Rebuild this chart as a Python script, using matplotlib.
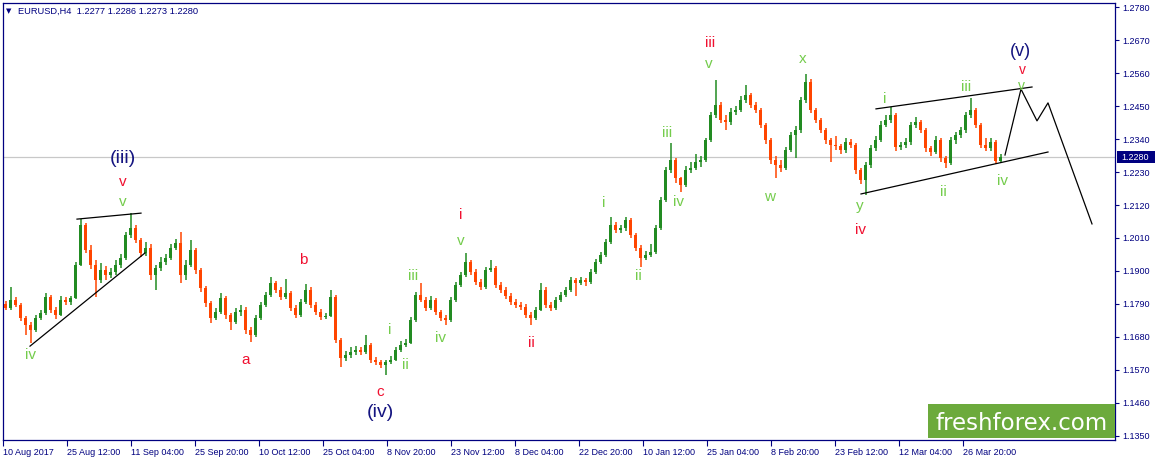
import numpy as np
import matplotlib
matplotlib.use("Agg")
import matplotlib.pyplot as plt
import matplotlib.transforms as mtransforms
from matplotlib.patches import Rectangle

# ローソク足データ (1本 = H4足5本分をまとめたもの)
first_open = 1.1790
closes = [
    1.1776, 1.1803, 1.1786, 1.1743, 1.1720, 1.1703, 1.1743, 1.1760, 1.1813, 1.1770,
    1.1753, 1.1803, 1.1796, 1.1810, 1.1920, 1.2053, 1.1970, 1.1920, 1.1870, 1.1903,
    1.1886, 1.1896, 1.1920, 1.1943, 1.2020, 1.2043, 1.2003, 1.1960, 1.1977, 1.1886,
    1.1910, 1.1930, 1.1943, 1.1977, 1.1993, 1.1886, 1.1920, 1.1970, 1.1903, 1.1843,
    1.1793, 1.1743, 1.1763, 1.1810, 1.1753, 1.1730, 1.1763, 1.1770, 1.1703, 1.1686,
    1.1743, 1.1786, 1.1820, 1.1860, 1.1836, 1.1813, 1.1826, 1.1776, 1.1753, 1.1796,
    1.1836, 1.1786, 1.1763, 1.1746, 1.1750, 1.1813, 1.1670, 1.1609, 1.1619, 1.1629,
    1.1636, 1.1629, 1.1653, 1.1603, 1.1596, 1.1586, 1.1596, 1.1603, 1.1636, 1.1653,
    1.1660, 1.1736, 1.1820, 1.1803, 1.1776, 1.1803, 1.1763, 1.1743, 1.1736, 1.1803,
    1.1853, 1.1886, 1.1930, 1.1896, 1.1863, 1.1846, 1.1903, 1.1910, 1.1853, 1.1836,
    1.1816, 1.1796, 1.1786, 1.1780, 1.1753, 1.1743, 1.1770, 1.1836, 1.1786, 1.1776,
    1.1803, 1.1820, 1.1836, 1.1870, 1.1860, 1.1870, 1.1863, 1.1896, 1.1930, 1.1953,
    1.1997, 1.2053, 1.2037, 1.2043, 1.2070, 1.2020, 1.1977, 1.1943, 1.1953, 1.1963,
    1.2043, 1.2137, 1.2237, 1.2270, 1.2210, 1.2187, 1.2237, 1.2244, 1.2264, 1.2270,
    1.2337, 1.2421, 1.2454, 1.2404, 1.2397, 1.2431, 1.2437, 1.2471, 1.2487, 1.2454,
    1.2437, 1.2387, 1.2337, 1.2270, 1.2254, 1.2244, 1.2304, 1.2354, 1.2370, 1.2471,
    1.2531, 1.2437, 1.2404, 1.2370, 1.2337, 1.2320, 1.2318, 1.2304, 1.2330, 1.2320,
    1.2237, 1.2204, 1.2254, 1.2310, 1.2337, 1.2387, 1.2404, 1.2421, 1.2314, 1.2320,
    1.2330, 1.2387, 1.2397, 1.2370, 1.2310, 1.2297, 1.2337, 1.2277, 1.2260, 1.2337,
    1.2354, 1.2370, 1.2421, 1.2437, 1.2387, 1.2320, 1.2310, 1.2330, 1.2266, 1.2280,
]
highs = [
    1.1800, 1.1846, 1.1812, 1.1793, 1.1750, 1.1728, 1.1752, 1.1770, 1.1826, 1.1820,
    1.1778, 1.1815, 1.1812, 1.1818, 1.1930, 1.2072, 1.2060, 1.1985, 1.1935, 1.1925,
    1.1915, 1.1910, 1.1935, 1.1958, 1.2030, 1.2093, 1.2055, 1.2010, 1.1995, 1.1990,
    1.1920, 1.1945, 1.1955, 1.1990, 1.2005, 1.2030, 1.1935, 1.2003, 1.1978, 1.1910,
    1.1850, 1.1800, 1.1775, 1.1826, 1.1818, 1.1760, 1.1775, 1.1785, 1.1778, 1.1712,
    1.1752, 1.1796, 1.1830, 1.1880, 1.1868, 1.1845, 1.1873, 1.1834, 1.1785, 1.1805,
    1.1856, 1.1845, 1.1795, 1.1772, 1.1760, 1.1836, 1.1820, 1.1676, 1.1632, 1.1645,
    1.1650, 1.1646, 1.1686, 1.1660, 1.1612, 1.1604, 1.1603, 1.1615, 1.1645, 1.1665,
    1.1672, 1.1745, 1.1830, 1.1860, 1.1812, 1.1815, 1.1810, 1.1770, 1.1752, 1.1812,
    1.1862, 1.1896, 1.1960, 1.1938, 1.1905, 1.1872, 1.1913, 1.1937, 1.1918, 1.1862,
    1.1845, 1.1825, 1.1805, 1.1795, 1.1788, 1.1762, 1.1780, 1.1860, 1.1845, 1.1795,
    1.1813, 1.1830, 1.1846, 1.1880, 1.1878, 1.1880, 1.1876, 1.1906, 1.1940, 1.1963,
    1.2007, 1.2080, 1.2062, 1.2055, 1.2080, 1.2077, 1.2028, 1.1985, 1.1965, 1.1990,
    1.2052, 1.2146, 1.2246, 1.2327, 1.2278, 1.2215, 1.2250, 1.2262, 1.2290, 1.2285,
    1.2345, 1.2432, 1.2537, 1.2465, 1.2420, 1.2445, 1.2450, 1.2485, 1.2520, 1.2495,
    1.2465, 1.2445, 1.2395, 1.2345, 1.2285, 1.2270, 1.2315, 1.2363, 1.2385, 1.2480,
    1.2557, 1.2540, 1.2445, 1.2412, 1.2378, 1.2345, 1.2350, 1.2325, 1.2345, 1.2340,
    1.2328, 1.2245, 1.2265, 1.2320, 1.2350, 1.2400, 1.2420, 1.2447, 1.2428, 1.2332,
    1.2345, 1.2397, 1.2414, 1.2405, 1.2378, 1.2318, 1.2350, 1.2345, 1.2285, 1.2347,
    1.2365, 1.2380, 1.2430, 1.2477, 1.2445, 1.2395, 1.2345, 1.2345, 1.2338, 1.2290,
]
lows = [
    1.1768, 1.1770, 1.1778, 1.1732, 1.1685, 1.1660, 1.1695, 1.1735, 1.1752, 1.1760,
    1.1740, 1.1748, 1.1786, 1.1785, 1.1805, 1.1915, 1.1960, 1.1905, 1.1813, 1.1860,
    1.1870, 1.1876, 1.1885, 1.1910, 1.1935, 1.2010, 1.1993, 1.1945, 1.1950, 1.1870,
    1.1836, 1.1900, 1.1920, 1.1935, 1.1970, 1.1860, 1.1870, 1.1912, 1.1890, 1.1830,
    1.1780, 1.1725, 1.1735, 1.1755, 1.1740, 1.1703, 1.1722, 1.1750, 1.1690, 1.1663,
    1.1680, 1.1736, 1.1778, 1.1812, 1.1826, 1.1803, 1.1805, 1.1766, 1.1742, 1.1746,
    1.1790, 1.1776, 1.1753, 1.1736, 1.1738, 1.1745, 1.1660, 1.1580, 1.1600, 1.1610,
    1.1618, 1.1618, 1.1622, 1.1592, 1.1585, 1.1575, 1.1553, 1.1588, 1.1598, 1.1630,
    1.1645, 1.1655, 1.1730, 1.1795, 1.1766, 1.1770, 1.1753, 1.1733, 1.1720, 1.1730,
    1.1796, 1.1845, 1.1880, 1.1886, 1.1853, 1.1836, 1.1840, 1.1895, 1.1843, 1.1826,
    1.1806, 1.1786, 1.1776, 1.1770, 1.1743, 1.1720, 1.1735, 1.1765, 1.1776, 1.1766,
    1.1770, 1.1795, 1.1812, 1.1830, 1.1816, 1.1852, 1.1850, 1.1856, 1.1890, 1.1922,
    1.1946, 1.1990, 1.2027, 1.2025, 1.2035, 1.2010, 1.1965, 1.1913, 1.1935, 1.1945,
    1.1958, 1.2037, 1.2130, 1.2228, 1.2195, 1.2164, 1.2180, 1.2228, 1.2236, 1.2248,
    1.2262, 1.2330, 1.2412, 1.2394, 1.2370, 1.2387, 1.2420, 1.2430, 1.2462, 1.2444,
    1.2427, 1.2377, 1.2325, 1.2258, 1.2210, 1.2230, 1.2238, 1.2296, 1.2277, 1.2362,
    1.2462, 1.2427, 1.2394, 1.2360, 1.2325, 1.2264, 1.2305, 1.2290, 1.2295, 1.2310,
    1.2225, 1.2190, 1.2155, 1.2245, 1.2300, 1.2330, 1.2380, 1.2395, 1.2300, 1.2305,
    1.2312, 1.2322, 1.2378, 1.2360, 1.2297, 1.2285, 1.2290, 1.2265, 1.2244, 1.2254,
    1.2325, 1.2345, 1.2362, 1.2412, 1.2377, 1.2310, 1.2300, 1.2300, 1.2258, 1.2260,
]

# 軸ラベル
time_labels = [
    "10 Aug 2017", "25 Aug 12:00", "11 Sep 04:00", "25 Sep 20:00", "10 Oct 12:00",
    "25 Oct 04:00", "8 Nov 20:00", "23 Nov 12:00", "8 Dec 04:00", "22 Dec 20:00",
    "10 Jan 12:00", "25 Jan 04:00", "8 Feb 20:00", "23 Feb 12:00", "12 Mar 04:00",
    "26 Mar 20:00",
]
price_ticks = [1.2780, 1.2670, 1.2560, 1.2450, 1.2340, 1.2230, 1.2120,
               1.2010, 1.1900, 1.1790, 1.1680, 1.1570, 1.1460, 1.1350]
last_price = 1.2280
header = "EURUSD,H4  1.2277 1.2286 1.2273 1.2280"

# トレンドライン・予想パス (H4足インデックス, 価格)
wedge_top_x = [74, 138]
wedge_top_y = [1.2073, 1.2093]
wedge_bot_x = [27, 142]
wedge_bot_y = [1.1649, 1.1960]
chan_top_x = [873, 1029]
chan_top_y = [1.2441, 1.2514]
chan_bot_x = [858, 1045]
chan_bot_y = [1.2157, 1.2297]
forecast_x = [1002, 1018, 1034, 1045, 1089]
forecast_y = [1.2287, 1.2507, 1.2401, 1.2461, 1.2057]

# 波動ラベル (テキスト, H4足インデックス, 価格, 種類)
wave_labels = [
    ("(iii)", 120, 1.2277, "major"), ("v", 120, 1.2197, "minor"), ("v", 120, 1.2130, "minute"),
    ("iv", 27, 1.1620, "minute"), ("a", 243, 1.1603, "minor"), ("b", 300, 1.1937, "minor"),
    ("c", 377, 1.1496, "minor"), ("(iv)", 377, 1.1429, "major"),
    ("i", 387, 1.1703, "minute"), ("ii", 402, 1.1586, "minute"), ("iii", 410, 1.1883, "minute"),
    ("iv", 437, 1.1676, "minute"), ("v", 458, 1.2000, "minute"), ("i", 458, 1.2087, "minor"),
    ("ii", 528, 1.1660, "minor"),
    ("i", 601, 1.2127, "minute"), ("ii", 635, 1.1883, "minute"), ("iii", 664, 1.2360, "minute"),
    ("iv", 675, 1.2130, "minute"), ("v", 706, 1.2591, "minute"), ("iii", 707, 1.2661, "minor"),
    ("w", 767, 1.2147, "minute"), ("x", 800, 1.2607, "minute"), ("y", 857, 1.2117, "minute"),
    ("iv", 857, 1.2037, "minor"),
    ("i", 882, 1.2474, "minute"), ("ii", 940, 1.2164, "minute"), ("iii", 963, 1.2514, "minute"),
    ("iv", 999, 1.2200, "minute"), ("v", 1018, 1.2517, "minute_s"), ("v", 1019, 1.2571, "minor_s"),
    ("(v)", 1017, 1.2634, "major_s"),
]

NAVY = "#000080"
UP = "#228b22"
DOWN = "#ff4500"
label_style = {
    "major": ("#141480", 14),
    "minor": ("#f01030", 11),
    "minute": ("#74cc4c", 11),
    "major_s": ("#141480", 13),
    "minor_s": ("#f01030", 10),
    "minute_s": ("#74cc4c", 10),
}
BAR_STEP = 5   # 1本あたりのH4足数
TICK_EVERY = 64

W, H = 1155, 461
fig = plt.figure(figsize=(W / 100, H / 100), dpi=100)
fig.patch.set_facecolor("white")
ax = fig.add_axes([3 / W, 21 / H, 1112 / W, 437 / H])
ax.set_xlim(0, 1112)
ax.set_ylim(1.13357, 1.27944)

# 現在値ライン
ax.axhline(last_price, color="#c8c8c8", lw=0.9, zorder=0)

# ローソク足
c = np.array(closes)
o = np.array([first_open] + closes[:-1])
x = np.arange(len(c)) * BAR_STEP + BAR_STEP / 2
colors = np.where(c >= o, UP, DOWN)
ax.vlines(x, lows, highs, colors=colors, lw=1.1, zorder=2)
ax.bar(x, np.abs(c - o), bottom=np.minimum(c, o), width=3.8, color=colors, lw=0, zorder=3)

# ライン
for lx, ly in [(wedge_top_x, wedge_top_y), (wedge_bot_x, wedge_bot_y),
               (chan_top_x, chan_top_y), (chan_bot_x, chan_bot_y),
               (forecast_x, forecast_y)]:
    ax.plot(lx, ly, color="black", lw=0.9, zorder=4)

for txt, bx, py, kind in wave_labels:
    col, fs = label_style[kind]
    ax.text(bx, py, txt, color=col, fontsize=fs, ha="center", va="center",
            family="Liberation Sans", zorder=5)

# 枠と目盛り
for sp in ax.spines.values():
    sp.set_color(NAVY)
    sp.set_linewidth(0.9)
ax.yaxis.tick_right()
ax.set_yticks(price_ticks)
ax.set_yticklabels([f"{p:.4f}" for p in price_ticks])
ax.tick_params(axis="y", direction="out", length=3, width=0.8, colors=NAVY,
               labelsize=6.5, pad=2.5)
ax.set_xticks(np.arange(len(time_labels)) * TICK_EVERY)
ax.set_xticklabels(time_labels)
ax.tick_params(axis="x", direction="out", length=4, width=0.8, colors=NAVY,
               labelsize=6.5, pad=1.5)
for lab in ax.get_xticklabels() + ax.get_yticklabels():
    lab.set_family("Liberation Sans")
for lab in ax.get_xticklabels():
    lab.set_ha("left")

# 現在値ボックス
blend = mtransforms.blended_transform_factory(fig.transFigure, ax.transData)
ax.add_patch(Rectangle((1117 / W, last_price - 0.0020), 38 / W, 0.0040,
                       transform=blend, facecolor=NAVY, edgecolor="none",
                       clip_on=False, zorder=6))
ax.text(1121 / W, last_price, f"{last_price:.4f}", transform=blend, color="white",
        fontsize=6.5, va="center", ha="left", family="Liberation Sans",
        clip_on=False, zorder=7)

# ヘッダー
fig.text(9 / W, 1 - 11 / H, "\u25bc", fontsize=5, color=NAVY, ha="center", va="center",
         family="DejaVu Sans")
fig.text(18 / W, 1 - 11 / H, header, fontsize=6.7, color=NAVY, ha="left", va="center",
         family="Liberation Sans")

# ウォーターマーク
fig.patches.append(Rectangle((928 / W, 1 - 438 / H), 187 / W, 34 / H,
                             transform=fig.transFigure, facecolor="#6caa3c",
                             edgecolor="none", zorder=8))
fig.text(1022 / W, 1 - 430 / H, "freshforex.com", fontsize=16.5, color="white",
         ha="center", va="baseline", family="DejaVu Sans", zorder=9)

fig.savefig("out.png", dpi=100)
